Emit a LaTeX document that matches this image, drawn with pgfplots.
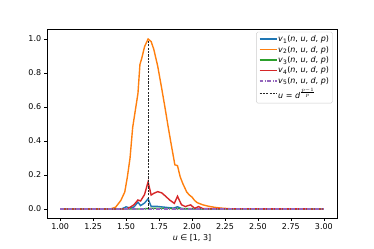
\documentclass[border=0pt]{standalone}
\usepackage{pgfplots}
\pgfplotsset{compat=1.18}
\usepackage{fontspec}
\setmainfont{DejaVu Sans}
\definecolor{c0}{HTML}{1F77B4}
\definecolor{c1}{HTML}{FF7F0E}
\definecolor{c2}{HTML}{2CA02C}
\definecolor{c3}{HTML}{D62728}
\definecolor{c4}{HTML}{9467BD}
\newcommand{\vv}[1]{\textit{v}\textsubscript{#1}(\textit{n}, \textit{u}, \textit{d}, \textit{p})}
\begin{document}
\begin{tikzpicture}
\fontsize{8}{9.6}\selectfont
\path (-47bp,-31bp) rectangle (327bp,218bp);
\begin{axis}[
  scale only axis, width=290bp, height=189bp,
  xmin=0.9, xmax=3.1, ymin=-0.053, ymax=1.059,
  xtick={1,1.25,...,3}, ytick={0,0.2,...,1},
  xticklabel style={/pgf/number format/.cd,fixed,fixed zerofill,precision=2},
  yticklabel style={/pgf/number format/.cd,fixed,fixed zerofill,precision=1},
  /pgf/number format/assume math mode=true,
  tick align=outside, tick pos=left, major tick length=3pt,
  tick style={black, line width=0.5pt},
  axis line style={line width=0.6pt},
  ticklabel style={font=\fontsize{8}{9.6}\selectfont},
  xlabel={\textit{u} ∈ [1, 3]},
  xlabel style={font=\fontsize{8}{9.6}\selectfont, yshift=1pt},
  legend style={at={(0.985,0.985)}, anchor=north east, draw=black!20, rounded corners=1.5pt,
    fill=white, font=\fontsize{8}{9.6}\selectfont, row sep=1.2pt, inner sep=2.5pt,
    nodes={inner sep=1pt}},
  legend cell align=left,
]
\addplot[c0, line width=1.4pt] coordinates {(1.00,0) (1.46,0) (1.49,0.008) (1.50,0.013) (1.53,0.005) (1.56,0.012) (1.59,0.04) (1.61,0.02) (1.64,0.035) (1.667,0.06) (1.69,0.015) (1.74,0.015) (1.80,0.01) (1.86,0.005) (1.89,0.013) (1.92,0.003) (1.95,0) (3,0)};
\addlegendentry{\vv{1}}
\addplot[c1, line width=1.4pt] coordinates {(1.00,0) (1.38,0) (1.42,0.01) (1.46,0.05) (1.49,0.10) (1.51,0.19) (1.53,0.30) (1.55,0.48) (1.57,0.58) (1.59,0.68) (1.605,0.85) (1.62,0.89) (1.64,0.955) (1.667,1.0) (1.69,0.985) (1.71,0.94) (1.74,0.84) (1.77,0.71) (1.79,0.62) (1.82,0.48) (1.84,0.39) (1.87,0.26) (1.89,0.255) (1.91,0.19) (1.93,0.15) (1.96,0.10) (1.98,0.082) (2.00,0.07) (2.02,0.05) (2.04,0.037) (2.08,0.025) (2.12,0.017) (2.17,0.01) (2.22,0.005) (2.30,0.001) (3.00,0)};
\addlegendentry{\vv{2}}
\addplot[c2, line width=1.4pt] coordinates {(1,0) (1.6,0) (1.7,0.004) (1.8,0.003) (1.9,0.002) (2.0,0.002) (2.1,0) (3,0)};
\addlegendentry{\vv{3}}
\addplot[c3, line width=1.4pt] coordinates {(1.00,0) (1.50,0) (1.53,0.01) (1.56,0.025) (1.59,0.053) (1.61,0.047) (1.64,0.085) (1.667,0.16) (1.69,0.082) (1.71,0.092) (1.74,0.102) (1.77,0.095) (1.80,0.075) (1.83,0.053) (1.866,0.033) (1.89,0.075) (1.92,0.025) (1.95,0.014) (1.97,0.02) (1.99,0.024) (2.02,0.004) (2.05,0.014) (2.08,0.003) (2.12,0.002) (3.00,0)};
\addlegendentry{\vv{4}}
\addplot[c4, line width=1.4pt, dash pattern=on 4pt off 1.5pt on 1pt off 1.5pt] coordinates {(1,0) (3,0)};
\addlegendentry{\vv{5}}
\addplot[black!85, line width=0.6pt, dash pattern=on 2.2pt off 1.2pt] coordinates {(1.6667,0) (1.6667,0.996)};
\addlegendentry{\textit{u} = \textit{d}$^{\frac{p-1}{p}}$}
\end{axis}
\end{tikzpicture}
\end{document}
